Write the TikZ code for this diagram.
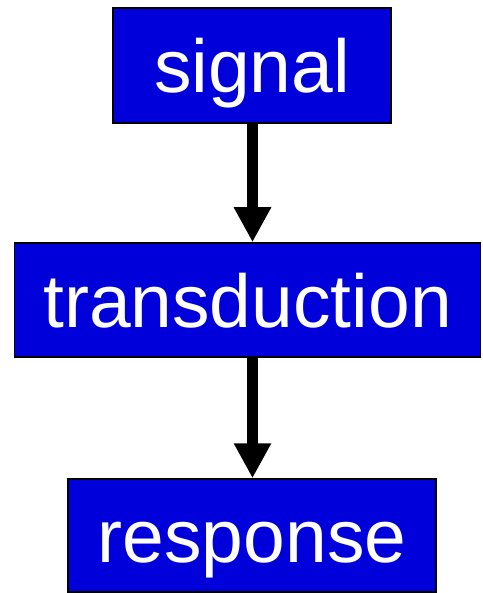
\documentclass[tikz,border=0pt]{standalone}
\usepackage{fontspec}
\setmainfont{Liberation Sans}
\usetikzlibrary{arrows.meta}
\definecolor{boxblue}{RGB}{0,0,218}
\begin{document}
\begin{tikzpicture}[x=1pt,y=1pt,>={Triangle[width=35pt,length=35pt]},
	stage/.style={draw=black,line width=1.5pt,fill=boxblue,text=white,inner sep=0pt,
		text height=54pt,text depth=0pt,font=\fontsize{75}{79}\selectfont},
	flow/.style={->,line width=11pt}]
	\useasboundingbox (0,0) rectangle (482,-593);
	\node[stage,minimum width=278,minimum height=115] (sig) at (252,-65.5) {signal};
	\node[stage,minimum width=466,minimum height=114] (trans) at (247.5,-300) {transduction};
	\node[stage,minimum width=368,minimum height=113] (resp) at (252,-535.5) {response};
	\draw[flow] (sig.south -| 252.5,0) -- (trans.north -| 252.5,0);
	\draw[flow] (trans.south -| 252.5,0) -- (resp.north -| 252.5,0);
\end{tikzpicture}
\end{document}
